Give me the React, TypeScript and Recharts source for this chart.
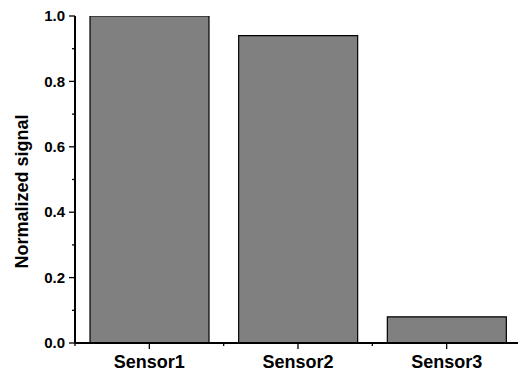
import React from "react";
import { BarChart, Bar, XAxis, YAxis } from "recharts";

const categories = ["Sensor1", "Sensor2", "Sensor3"];
const signalValues = [1.0, 0.94, 0.08];
const yTicks = [0, 0.1, 0.2, 0.3, 0.4, 0.5, 0.6, 0.7, 0.8, 0.9, 1.0];
const yAxisLabel = "Normalized signal";

const data = categories.map((name, i) => ({ name, value: signalValues[i] }));

const FONT = "'Liberation Sans', Arial, Helvetica, sans-serif";

const YTick = (props: any) => {
  const { x, y, payload } = props;
  const v = Number(payload.value);
  const major = Math.round(v * 10) % 2 === 0;
  const len = major ? 6 : 3;
  return (
    <g>
      <line x1={x - len} x2={x} y1={y} y2={y} stroke="#000" strokeWidth={1.3} />
      {major && (
        <text
          x={x - 10}
          y={y}
          dy="0.35em"
          textAnchor="end"
          fontFamily={FONT}
          fontWeight="bold"
          fontSize={15}
          fill="#000"
        >
          {v.toFixed(1)}
        </text>
      )}
    </g>
  );
};

const XTick = (props: any) => {
  const { x, y, payload, width, index } = props;
  const half =
    payload && typeof payload.offset === "number" && payload.offset > 0
      ? payload.offset
      : width / categories.length / 2;
  const isLast = index === categories.length - 1;
  return (
    <g>
      <line x1={x} x2={x} y1={y} y2={y + 6} stroke="#000" strokeWidth={1.3} />
      <line x1={x - half} x2={x - half} y1={y} y2={y + 3} stroke="#000" strokeWidth={1.3} />
      {isLast && (
        <line x1={x + half} x2={x + half} y1={y} y2={y + 3} stroke="#000" strokeWidth={1.3} />
      )}
      <text
        x={x}
        y={y + 25}
        textAnchor="middle"
        fontFamily={FONT}
        fontWeight="bold"
        fontSize={18}
        fill="#000"
      >
        {payload.value}
      </text>
    </g>
  );
};

const YLabel = (props: any) => {
  const vb = props.viewBox || { x: 0, y: 16, width: 75, height: 327 };
  const cx = vb.x + 28;
  const cy = vb.y + vb.height / 2 + 12;
  return (
    <text
      x={cx}
      y={cy}
      transform={`rotate(-90 ${cx} ${cy})`}
      textAnchor="middle"
      fontFamily={FONT}
      fontWeight="bold"
      fontSize={18}
      fill="#000"
    >
      {yAxisLabel}
    </text>
  );
};

export default function App() {
  return (
    <div
      style={{
        position: "absolute",
        left: 0,
        top: 0,
        width: 518,
        height: 371,
        overflow: "hidden",
        background: "#fff",
      }}
    >
      <BarChart
        width={521}
        height={371}
        data={data}
        margin={{ top: 16, right: 0, bottom: 0, left: 0 }}
        barSize={119}
      >
        <XAxis
          dataKey="name"
          tick={<XTick />}
          tickLine={false}
          tickSize={0}
          tickMargin={0}
          height={28}
          interval={0}
          axisLine={{ stroke: "#000", strokeWidth: 2 }}
        />
        <XAxis
          xAxisId="top"
          orientation="top"
          dataKey="name"
          tick={false}
          tickLine={false}
          height={0}
          axisLine={{ stroke: "#000", strokeWidth: 2 }}
        />
        <YAxis
          domain={[0, 1]}
          ticks={yTicks}
          interval={0}
          width={75}
          tick={<YTick />}
          tickLine={false}
          tickSize={0}
          tickMargin={0}
          allowDataOverflow
          axisLine={{ stroke: "#000", strokeWidth: 2 }}
          label={<YLabel />}
        />
        <Bar
          dataKey="value"
          fill="#808080"
          stroke="#000"
          strokeWidth={1.2}
          isAnimationActive={false}
        />
      </BarChart>
    </div>
  );
}
